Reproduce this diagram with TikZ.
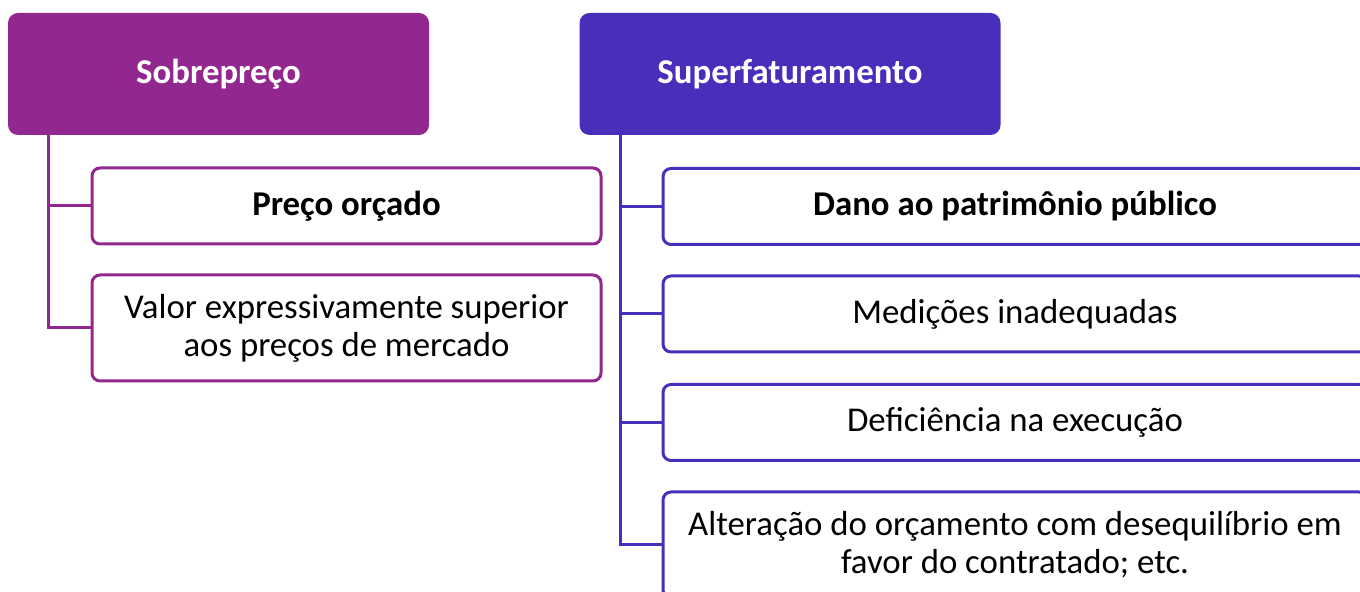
\documentclass[tikz,border=0pt]{standalone}
\usepackage{fontspec}
\setmainfont{Carlito}
\usetikzlibrary{positioning}
\definecolor{roxo}{HTML}{92278F}
\definecolor{anil}{HTML}{482EBB}
\newcommand{\letra}{\fontsize{17.4}{19}\selectfont}
\tikzset{
    cabeca/.style={rounded corners=5pt, fill=#1, text=white, font=\letra\bfseries,
                   minimum width=210.5pt, minimum height=61pt, inner sep=0pt},
    caixa/.style={rounded corners=4pt, draw=#1, line width=1.5pt, fill=white,
                  minimum width=254.5pt, minimum height=38pt, align=center, inner sep=0pt},
    ramo/.style={line width=1.5pt, draw=#1}
}

\begin{document}
\begin{tikzpicture}[x=0.5pt, y=-0.5pt, font=\letra]
            \useasboundingbox (0,0) rectangle (1360,592);
            \clip (0,0) rectangle (1360,592);

            % cabecalhos
            \node[cabeca=roxo] (sobre) at (218.5,74) {Sobrepreço};
            \node[cabeca=anil] (super) at (790,74) {Superfaturamento};

            % lado esquerdo
            \node[caixa=roxo] (orcado) at (346.5,206) {\textbf{Preço orçado}};
            \node[caixa=roxo, minimum height=53pt] (valor) at (346.5,328)
                {Valor expressivamente superior\\aos preços de mercado};

            % lado direito
            \node[caixa=anil, minimum width=352pt] (dano) at (1015,206.5) {\textbf{Dano ao patrimônio público}};
            \node[caixa=anil, minimum width=352pt] (medicoes) at (1015,314) {Medições inadequadas};
            \node[caixa=anil, minimum width=352pt] (deficiencia) at (1015,422.5) {Deficiência na execução};
            \node[caixa=anil, minimum width=352pt, minimum height=53pt] (alteracao) at (1015,545)
                {Alteração do orçamento com desequilíbrio em\\favor do contratado; etc.};

            \foreach \b in {orcado,valor}{
                \draw[ramo=roxo] ([xshift=20.5pt]sobre.south west) |- (\b.west);
            }
            \foreach \b in {dano,medicoes,deficiencia,alteracao}{
                \draw[ramo=anil] ([xshift=20.5pt]super.south west) |- (\b.west);
            }

        \end{tikzpicture}
\end{document}
